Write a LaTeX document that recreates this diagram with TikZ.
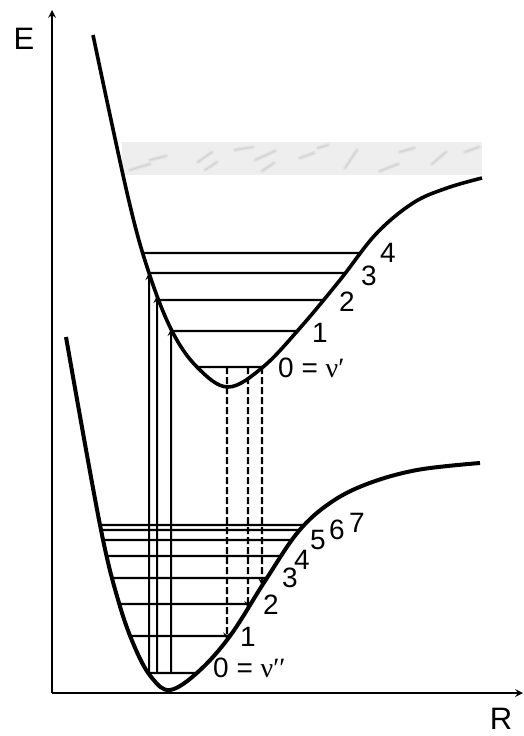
\documentclass[tikz,border=0pt]{standalone}
\usepackage{fontspec}
\setmainfont{Liberation Sans}
\newfontfamily\greekfont{Liberation Serif}
\usetikzlibrary{intersections}

\begin{document}
\begin{tikzpicture}[x=1pt, y=-1pt,
  curve/.style={line width=4pt, line join=round},
  level/.style={line width=2.3pt},
  axis/.style={->, >=stealth, line width=2.4pt},
  up/.style={->, >=stealth, line width=2pt},
  down/.style={->, >=stealth, line width=2.2pt, dash pattern=on 7pt off 3pt},
  num/.style={inner sep=0pt, font=\fontsize{28}{32}\selectfont},
  axlabel/.style={inner sep=0pt, font=\fontsize{31}{36}\selectfont},
]
  \useasboundingbox (0,0) rectangle (524,736);

  % Continuum band
  \fill[gray!13] (122,142) rectangle (482,175);
  \foreach \x/\y/\dx/\dy in {130/170/20/-6, 150/160/16/-4, 198/162/14/-10,
      205/170/12/-8, 235/150/18/-3, 255/160/20/-9, 262/171/12/-8,
      300/158/14/-5, 318/148/10/-3, 345/168/12/-18, 380/171/18/-7,
      400/152/14/-4, 432/164/14/-12, 465/152/14/-5}
  {
    \draw[gray!40, line width=4pt, line cap=round, opacity=0.3]
      (\x,\y) -- ++(\dx,\dy);
    \draw[gray!50, line width=1.2pt, line cap=round, opacity=0.45]
      (\x,\y) -- ++(\dx,\dy);
  }

  % Axes
  \coordinate (O) at (52,693);
  \coordinate (Etop) at (52,10);
  \coordinate (Rend) at (523,693);
  \draw[axis] (O) -- (Etop);
  \draw[axis] (O) -- (Rend);
  \node[axlabel] (E) at (24,39) {E};
  \node[axlabel] (R) at (501,719) {R};

  % Potential curves
  \draw[curve, line width=3.6pt, name path=upper] plot[smooth, tension=0.6] coordinates {
    (93,35) (128,197) (149,273) (172,331) (197,367) (228,387) (263,367)
    (300,328) (340,280) (376,234) (413,203) (447,188) (482,178)};
  \draw[curve, name path=lower] plot[smooth, tension=0.6] coordinates {
    (66,337) (100,525) (119,603) (136,650) (152,678) (170,690)
    (198,672) (230,636) (265,581) (298,532) (330,503)
    (367,484) (417,470) (480,463)};

  % Vibrational levels
  \foreach \i/\y in {0/367,1/331,2/300,3/273,4/253} {
    \path[name path=h] (0,\y) -- (524,\y);
    \path[name intersections={of=upper and h, sort by=upper, by={ul\i,ur\i}}];
    \draw[level] (ul\i) -- (ur\i);
  }
  \foreach \i/\y in {0/673,1/636,2/604,3/578,4/556,5/540,6/530,7/525} {
    \path[name path=h] (0,\y) -- (524,\y);
    \path[name intersections={of=lower and h, sort by=lower, by={ll\i,lr\i}}];
    \draw[level] (ll\i) -- (lr\i);
  }

  % Absorption
  \foreach \j/\x in {1/149,2/157,3/171} {
    \coordinate (s\j) at (\x,673);
    \path[name path=v] (s\j) -- (\x,150);
    \path[name intersections={of=upper and v, by=t\j}];
    \draw[up] (s\j) -- (t\j);
  }

  % Emission
  \foreach \j/\x in {1/227,2/248,3/262} {
    \coordinate (a\j) at (\x,367);
    \path[name path=v] (a\j) -- (\x,720);
    \path[name intersections={of=lower and v, by=b\j}];
    \draw[down] (a\j) -- (b\j);
  }

  % Level labels
  \node[num, anchor=base west] (u0) at (278,377) {0 = {\greekfont ν′}};
  \node[num] (u1) at (320,333) {1};
  \node[num] (u2) at (347,302) {2};
  \node[num] (u3) at (369,276) {3};
  \node[num] (u4) at (388,253) {4};

  \node[num, anchor=base west] (g0) at (213,677) {0 = {\greekfont ν′′}};
  \node[num] (g1) at (248,637) {1};
  \node[num] (g2) at (271,605) {2};
  \node[num] (g3) at (290,578) {3};
  \node[num] (g4) at (302,560) {4};
  \node[num] (g5) at (318,540) {5};
  \node[num] (g6) at (337,530) {6};
  \node[num] (g7) at (357,523) {7};
\end{tikzpicture}
\end{document}
